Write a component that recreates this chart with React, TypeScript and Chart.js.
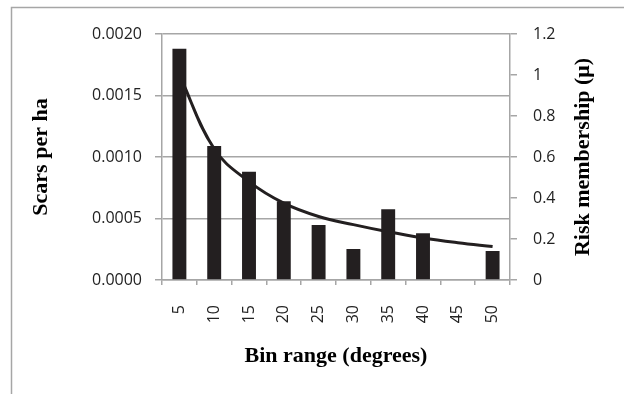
import { useEffect, useRef } from "react";
import { Chart, registerables } from "chart.js";

Chart.register(...registerables);

// Slope bins (degrees)
const binLabels = ["5", "10", "15", "20", "25", "30", "35", "40", "45", "50"];
// Scar density per bin (left axis)
const scarsPerHa = [0.00188, 0.00109, 0.00088, 0.00064, 0.000447, 0.000252, 0.000575, 0.00038, 0, 0.000236];
// Fitted risk membership curve (right axis)
const riskMembership = [1.0, 0.64, 0.48, 0.375, 0.31, 0.27, 0.235, 0.205, 0.182, 0.163];

const leftAxisRange = [0, 0.002];
const leftAxisStep = 0.0005;
const rightAxisRange = [0, 1.2];
const rightAxisStep = 0.2;

const xTitle = "Bin range (degrees)";
const leftTitle = "Scars per ha";
const rightTitle = "Risk membership (\u03bc)";

const W = 624;
const H = 394;
const INK = "#231f20";
const GRID = "#a6a6a6";
const TICK_FONT = { family: "'Open Sans', sans-serif", size: 16 };
const TITLE_FONT = { family: "'Liberation Serif', 'Times New Roman', serif", size: 22, weight: "bold" as const };
const TITLE_OFFSET = 41;

const decorations = {
  id: "decorations",
  beforeDraw(chart: any) {
    const { ctx } = chart;
    ctx.save();
    ctx.strokeStyle = GRID;
    ctx.lineWidth = 1.5;
    ctx.beginPath();
    ctx.moveTo(11.5, H);
    ctx.lineTo(11.5, 7.5);
    ctx.lineTo(W, 7.5);
    ctx.stroke();
    ctx.restore();
  },
  afterDraw(chart: any) {
    const { ctx, chartArea } = chart;
    const y1 = chart.scales.y1;
    ctx.save();
    ctx.translate(y1.right - TITLE_OFFSET, (chartArea.top + chartArea.bottom) / 2);
    ctx.rotate(-Math.PI / 2);
    ctx.font = `bold ${TITLE_FONT.size}px ${TITLE_FONT.family}`;
    ctx.fillStyle = "#000";
    ctx.textAlign = "center";
    ctx.textBaseline = "middle";
    ctx.fillText(rightTitle, 0, 0);
    ctx.restore();
  },
};

export default function App() {
  const canvasRef = useRef<HTMLCanvasElement | null>(null);

  useEffect(() => {
    const canvas = canvasRef.current;
    if (!canvas) return;
    const chart = new Chart(canvas, {
      type: "bar",
      data: {
        labels: binLabels,
        datasets: [
          {
            type: "bar",
            label: leftTitle,
            data: scarsPerHa,
            backgroundColor: INK,
            borderWidth: 0,
            categoryPercentage: 1,
            barPercentage: 0.4,
            yAxisID: "y",
            order: 0,
          },
          {
            type: "line",
            label: rightTitle,
            data: riskMembership,
            borderColor: INK,
            borderWidth: 3,
            pointRadius: 0,
            tension: 0.4,
            fill: false,
            yAxisID: "y1",
            order: 1,
          } as any,
        ],
      },
      options: {
        responsive: false,
        animation: false,
        devicePixelRatio: 1,
        layout: { padding: { top: 34, left: 0, right: 0, bottom: 0 } },
        plugins: {
          legend: { display: false },
          tooltip: { enabled: false },
        },
        scales: {
          x: {
            offset: true,
            grid: {
              display: true,
              drawOnChartArea: false,
              offset: true,
              color: GRID,
              lineWidth: 1.5,
              tickLength: 5,
            },
            border: { display: true, color: GRID, width: 1.5 },
            ticks: {
              font: TICK_FONT,
              color: "#222",
              minRotation: 90,
              maxRotation: 90,
              padding: 20,
            },
            title: {
              display: true,
              text: xTitle,
              font: TITLE_FONT,
              color: "#000",
              padding: { top: 0, bottom: 24 },
            },
            afterFit: (scale: any) => {
              scale.height = 114;
            },
          },
          y: {
            position: "left",
            min: leftAxisRange[0],
            max: leftAxisRange[1],
            grid: { color: GRID, lineWidth: 1.5, tickLength: 7 },
            border: { display: true, color: GRID, width: 1.5 },
            ticks: {
              stepSize: leftAxisStep,
              font: TICK_FONT,
              color: "#222",
              padding: 13,
              callback: (v: any) => Number(v).toFixed(4),
            },
            title: {
              display: true,
              text: leftTitle,
              font: TITLE_FONT,
              color: "#000",
              padding: { top: TITLE_OFFSET - 13, bottom: 0 },
            },
            afterFit: (scale: any) => {
              scale.width = 162;
            },
          },
          y1: {
            position: "right",
            min: rightAxisRange[0],
            max: rightAxisRange[1],
            grid: { drawOnChartArea: false, color: GRID, lineWidth: 1.5, tickLength: 7 },
            border: { display: true, color: GRID, width: 1.5 },
            ticks: {
              stepSize: rightAxisStep,
              font: TICK_FONT,
              color: "#222",
              padding: 16,
              callback: (v: any) => String(Number(Number(v).toFixed(1))),
            },
            afterFit: (scale: any) => {
              scale.width = 114;
            },
          },
        },
      },
      plugins: [decorations],
    });
    return () => chart.destroy();
  }, []);

  return (
    <div style={{ position: "fixed", left: 0, top: 0, width: W, height: H, background: "#fff" }}>
      <canvas ref={canvasRef} width={W} height={H} style={{ display: "block" }} />
    </div>
  );
}
